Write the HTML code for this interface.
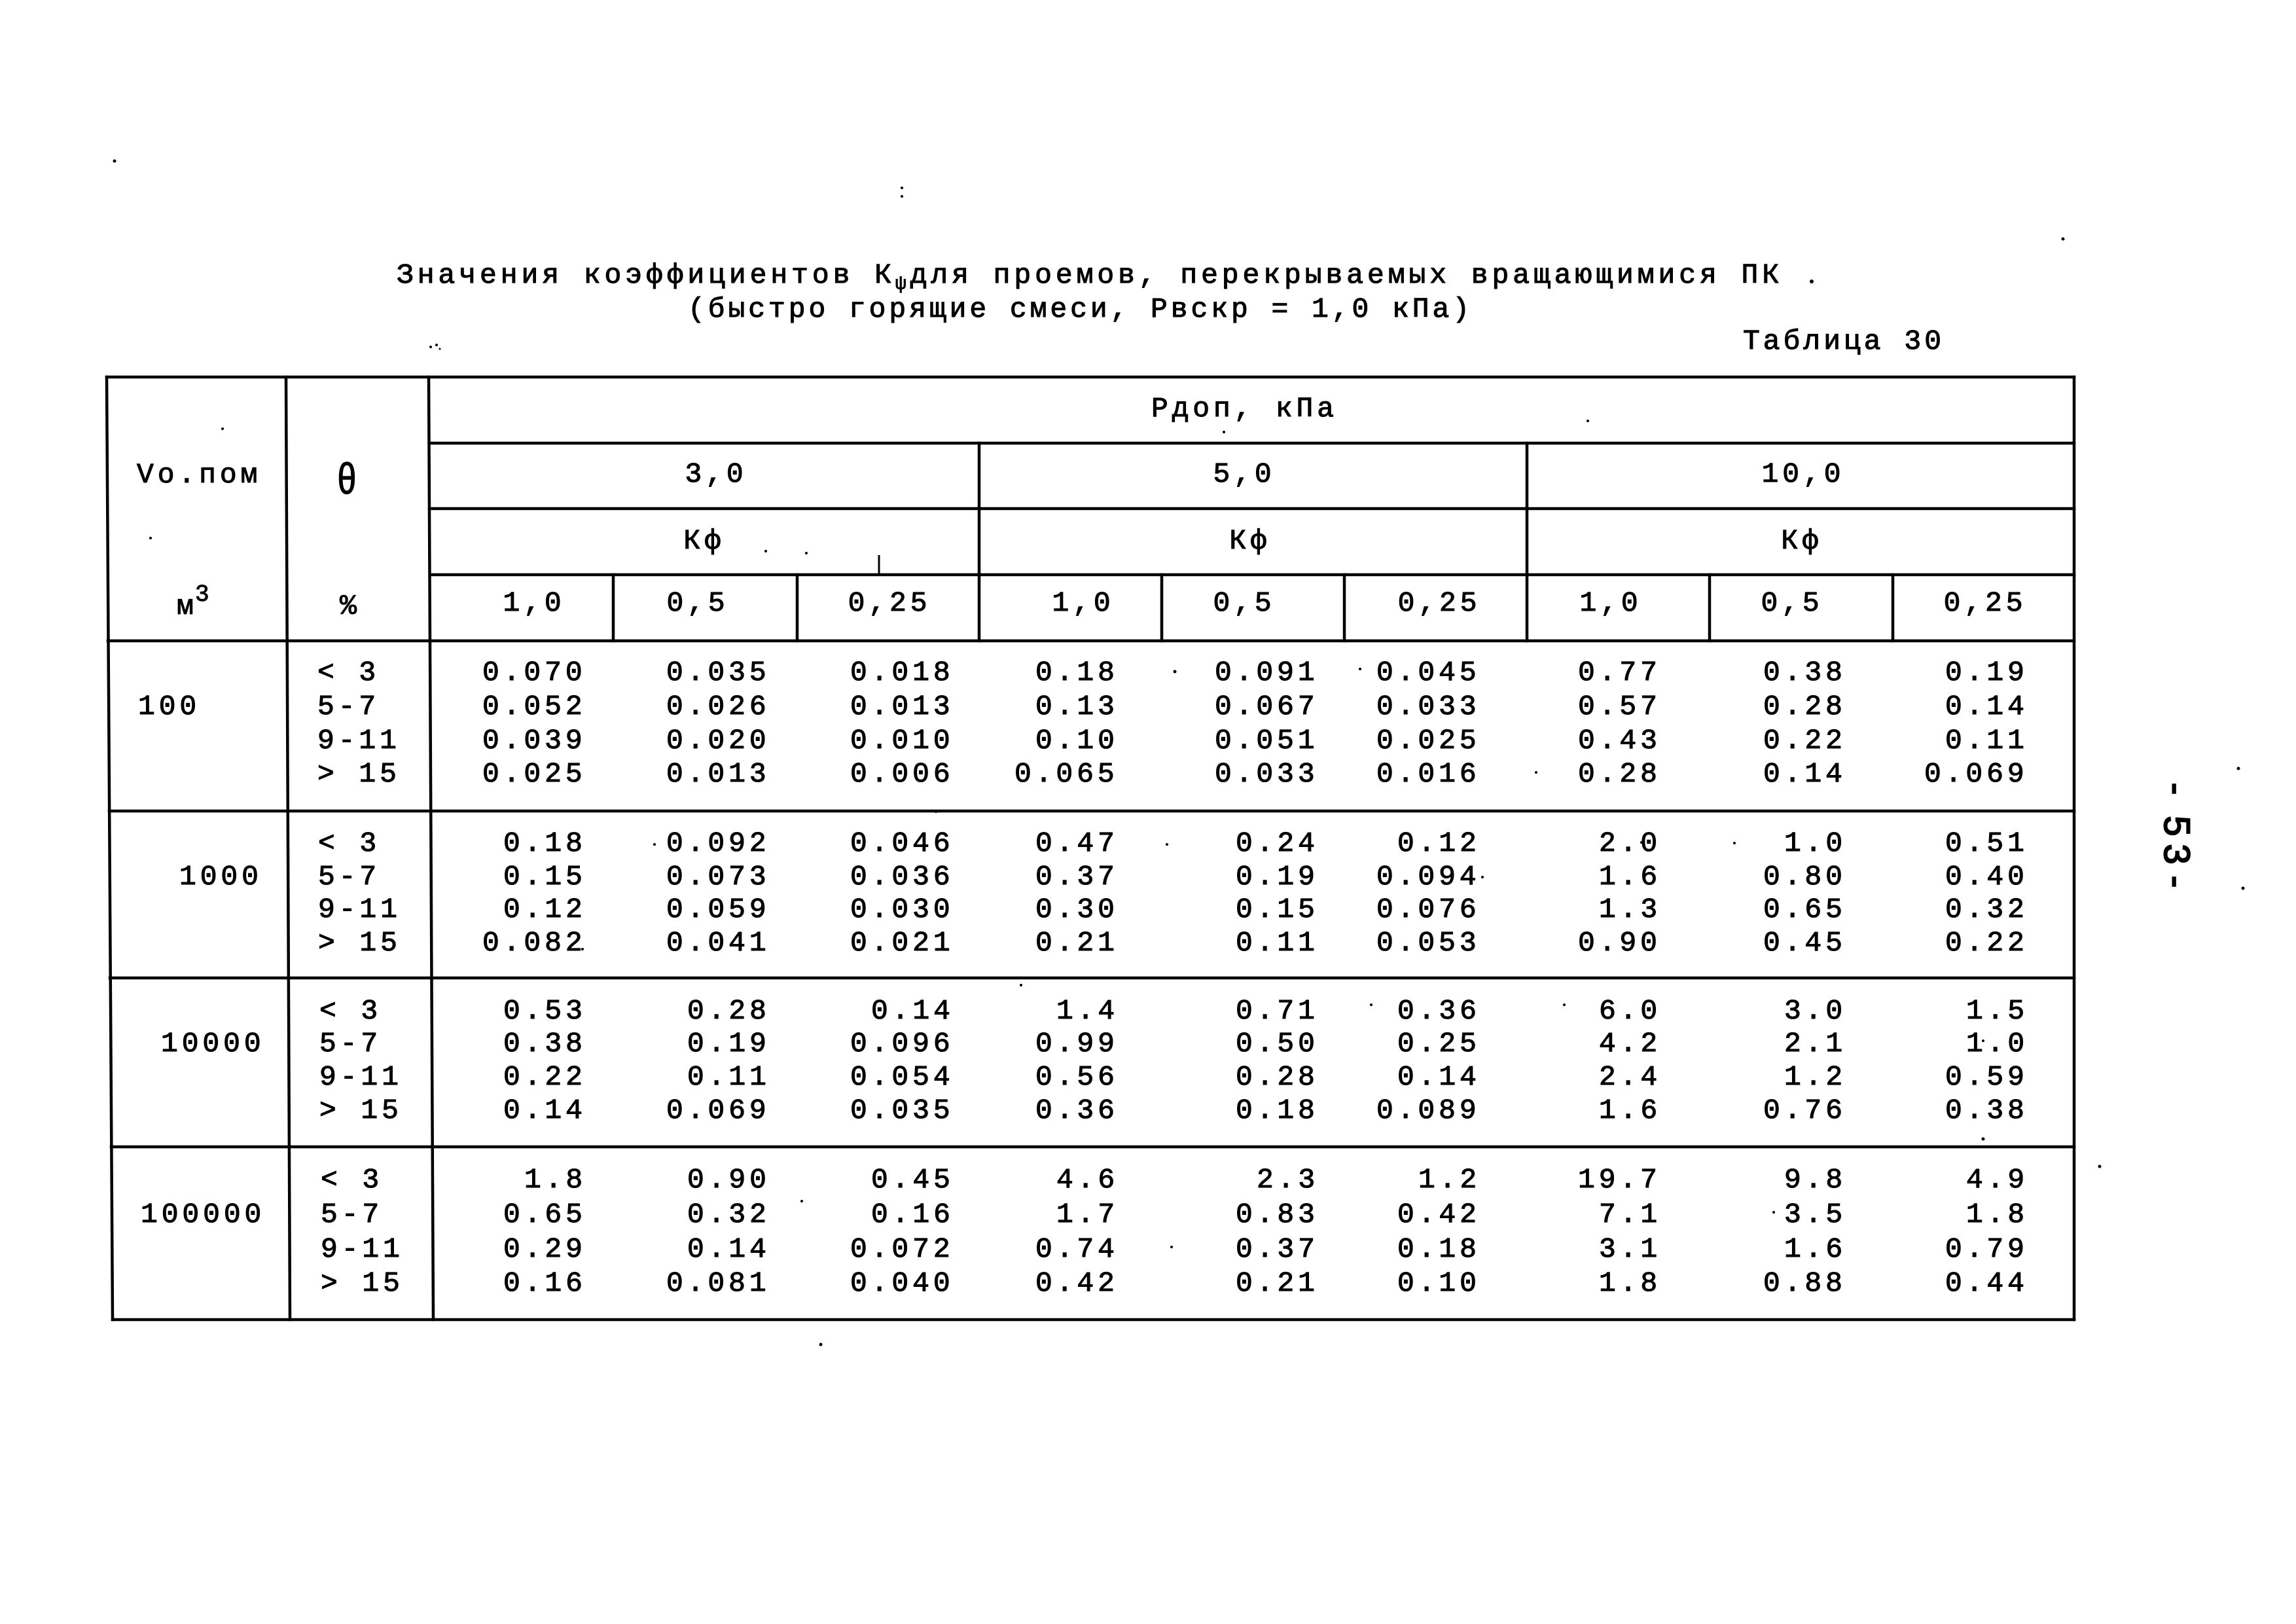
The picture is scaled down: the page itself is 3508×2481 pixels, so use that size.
<!DOCTYPE html>
<html>
<head>
<meta charset="utf-8">
<style>
html,body{margin:0;padding:0;background:#fff;}
svg{display:block;}
.t{font-family:"Liberation Mono","DejaVu Sans Mono",monospace;font-size:43px;fill:#000;stroke:#000;stroke-width:1.1px;}
.n{font-family:"Liberation Mono","DejaVu Sans Mono",monospace;font-size:43px;letter-spacing:5.9px;fill:#000;stroke:#000;stroke-width:1.1px;}
.m{text-anchor:middle;}
.ln{stroke:#000;stroke-width:4.5;stroke-linecap:square;}
</style>
</head>
<body>
<svg xmlns="http://www.w3.org/2000/svg" width="3508" height="2481" viewBox="0 0 3508 2481">
<rect x="0" y="0" width="3508" height="2481" fill="#fff"/>

<!-- Title -->
<text class="t" x="606" y="432" textLength="2112" lengthAdjust="spacing">Значения коэффициентов К<tspan style="font-size:28px" dy="9">ψ</tspan><tspan dy="-9">для проемов, перекрываемых вращающимися ПК</tspan></text>
<text class="t" x="1051" y="484" textLength="1194" lengthAdjust="spacing">(быстро горящие смеси, Рвскр = 1,0 кПа)</text>
<text class="t" x="2663" y="533" textLength="303" lengthAdjust="spacing">Таблица 30</text>

<!-- Table lines -->
<line class="ln" x1="163" y1="576" x2="3169" y2="576"/>
<line class="ln" x1="163" y1="576" x2="172" y2="2016"/>
<line class="ln" x1="437" y1="576" x2="443" y2="2016"/>
<line class="ln" x1="655" y1="576" x2="662" y2="2016"/>
<line class="ln" x1="3169" y1="576" x2="3169" y2="2016"/>
<line class="ln" x1="656" y1="677" x2="3169" y2="677"/>
<line class="ln" x1="656" y1="777" x2="3169" y2="777"/>
<line class="ln" x1="657" y1="878" x2="3169" y2="878"/>
<line class="ln" x1="165" y1="979" x2="3169" y2="979"/>
<line class="ln" x1="167" y1="1239" x2="3169" y2="1239"/>
<line class="ln" x1="168" y1="1494" x2="3169" y2="1494"/>
<line class="ln" x1="170" y1="1752" x2="3169" y2="1752"/>
<line class="ln" x1="172" y1="2016" x2="3169" y2="2016"/>
<line class="ln" x1="1496" y1="677" x2="1496" y2="979"/>
<line class="ln" x1="2333" y1="677" x2="2333" y2="979"/>
<line class="ln" x1="937" y1="878" x2="937" y2="979"/>
<line class="ln" x1="1218" y1="878" x2="1218" y2="979"/>
<line class="ln" x1="1775" y1="878" x2="1775" y2="979"/>
<line class="ln" x1="2054" y1="878" x2="2054" y2="979"/>
<line class="ln" x1="2612" y1="878" x2="2612" y2="979"/>
<line class="ln" x1="2892" y1="878" x2="2892" y2="979"/>
<line x1="1343" y1="848" x2="1343" y2="876" stroke="#000" stroke-width="3"/>

<!-- Left header -->
<text class="n" x="209" y="737">Vo.пом</text>
<text class="t" x="270" y="938">м</text>
<text class="t" x="298" y="918" style="font-size:36px;stroke-width:1px">3</text>
<g transform="translate(530,0) scale(0.78,1)">
<text class="t m" x="0" y="754" style="font-size:66px;stroke-width:1.4px">θ</text>
</g>
<text class="t m" x="532" y="938">%</text>

<!-- Right header -->
<text class="t" x="1759" y="636" textLength="279" lengthAdjust="spacing">Рдоп, кПа</text>
<text class="n m" x="1094" y="736">3,0</text>
<text class="n m" x="1901" y="736">5,0</text>
<text class="n m" x="2755" y="736">10,0</text>
<text class="n m" x="1076" y="838">Кф</text>
<text class="n m" x="1910" y="838">Кф</text>
<text class="n m" x="2753" y="838">Кф</text>
<text class="n m" x="816" y="933">1,0</text>
<text class="n m" x="1066" y="933">0,5</text>
<text class="n m" x="1359" y="933">0,25</text>
<text class="n m" x="1655" y="933">1,0</text>
<text class="n m" x="1901" y="933">0,5</text>
<text class="n m" x="2199" y="933">0,25</text>
<text class="n m" x="2461" y="933">1,0</text>
<text class="n m" x="2738" y="933">0,5</text>
<text class="n m" x="3033" y="933">0,25</text>

<!-- Volume labels -->
<text class="n" x="211" y="1091">100</text>
<text class="n" x="274" y="1351">1000</text>
<text class="n" x="246" y="1606">10000</text>
<text class="n" x="215" y="1867">100000</text>

<!-- Theta labels -->
<text class="n" x="485" y="1039">&lt; 3</text>
<text class="n" x="485" y="1091">5-7</text>
<text class="n" x="485" y="1143">9-11</text>
<text class="n" x="485" y="1194">&gt; 15</text>
<text class="n" x="486" y="1300">&lt; 3</text>
<text class="n" x="486" y="1351">5-7</text>
<text class="n" x="486" y="1401">9-11</text>
<text class="n" x="486" y="1452">&gt; 15</text>
<text class="n" x="488" y="1556">&lt; 3</text>
<text class="n" x="488" y="1606">5-7</text>
<text class="n" x="488" y="1657">9-11</text>
<text class="n" x="488" y="1708">&gt; 15</text>
<text class="n" x="490" y="1814">&lt; 3</text>
<text class="n" x="490" y="1867">5-7</text>
<text class="n" x="490" y="1920">9-11</text>
<text class="n" x="490" y="1972">&gt; 15</text>

<!-- Group 100 -->
<text class="n" x="737" y="1039">0.070</text><text class="n" x="1018" y="1039">0.035</text><text class="n" x="1299" y="1039">0.018</text><text class="n" x="1582" y="1039">0.18</text><text class="n" x="1856" y="1039">0.091</text><text class="n" x="2103" y="1039">0.045</text><text class="n" x="2411" y="1039">0.77</text><text class="n" x="2694" y="1039">0.38</text><text class="n" x="2972" y="1039">0.19</text>
<text class="n" x="737" y="1091">0.052</text><text class="n" x="1018" y="1091">0.026</text><text class="n" x="1299" y="1091">0.013</text><text class="n" x="1582" y="1091">0.13</text><text class="n" x="1856" y="1091">0.067</text><text class="n" x="2103" y="1091">0.033</text><text class="n" x="2411" y="1091">0.57</text><text class="n" x="2694" y="1091">0.28</text><text class="n" x="2972" y="1091">0.14</text>
<text class="n" x="737" y="1143">0.039</text><text class="n" x="1018" y="1143">0.020</text><text class="n" x="1299" y="1143">0.010</text><text class="n" x="1582" y="1143">0.10</text><text class="n" x="1856" y="1143">0.051</text><text class="n" x="2103" y="1143">0.025</text><text class="n" x="2411" y="1143">0.43</text><text class="n" x="2694" y="1143">0.22</text><text class="n" x="2972" y="1143">0.11</text>
<text class="n" x="737" y="1194">0.025</text><text class="n" x="1018" y="1194">0.013</text><text class="n" x="1299" y="1194">0.006</text><text class="n" x="1550" y="1194">0.065</text><text class="n" x="1856" y="1194">0.033</text><text class="n" x="2103" y="1194">0.016</text><text class="n" x="2411" y="1194">0.28</text><text class="n" x="2694" y="1194">0.14</text><text class="n" x="2940" y="1194">0.069</text>

<!-- Group 1000 -->
<text class="n" x="769" y="1300">0.18</text><text class="n" x="1018" y="1300">0.092</text><text class="n" x="1299" y="1300">0.046</text><text class="n" x="1582" y="1300">0.47</text><text class="n" x="1888" y="1300">0.24</text><text class="n" x="2135" y="1300">0.12</text><text class="n" x="2443" y="1300">2.0</text><text class="n" x="2726" y="1300">1.0</text><text class="n" x="2972" y="1300">0.51</text>
<text class="n" x="769" y="1351">0.15</text><text class="n" x="1018" y="1351">0.073</text><text class="n" x="1299" y="1351">0.036</text><text class="n" x="1582" y="1351">0.37</text><text class="n" x="1888" y="1351">0.19</text><text class="n" x="2103" y="1351">0.094</text><text class="n" x="2443" y="1351">1.6</text><text class="n" x="2694" y="1351">0.80</text><text class="n" x="2972" y="1351">0.40</text>
<text class="n" x="769" y="1401">0.12</text><text class="n" x="1018" y="1401">0.059</text><text class="n" x="1299" y="1401">0.030</text><text class="n" x="1582" y="1401">0.30</text><text class="n" x="1888" y="1401">0.15</text><text class="n" x="2103" y="1401">0.076</text><text class="n" x="2443" y="1401">1.3</text><text class="n" x="2694" y="1401">0.65</text><text class="n" x="2972" y="1401">0.32</text>
<text class="n" x="737" y="1452">0.082</text><text class="n" x="1018" y="1452">0.041</text><text class="n" x="1299" y="1452">0.021</text><text class="n" x="1582" y="1452">0.21</text><text class="n" x="1888" y="1452">0.11</text><text class="n" x="2103" y="1452">0.053</text><text class="n" x="2411" y="1452">0.90</text><text class="n" x="2694" y="1452">0.45</text><text class="n" x="2972" y="1452">0.22</text>

<!-- Group 10000 -->
<text class="n" x="769" y="1556">0.53</text><text class="n" x="1050" y="1556">0.28</text><text class="n" x="1331" y="1556">0.14</text><text class="n" x="1614" y="1556">1.4</text><text class="n" x="1888" y="1556">0.71</text><text class="n" x="2135" y="1556">0.36</text><text class="n" x="2443" y="1556">6.0</text><text class="n" x="2726" y="1556">3.0</text><text class="n" x="3004" y="1556">1.5</text>
<text class="n" x="769" y="1606">0.38</text><text class="n" x="1050" y="1606">0.19</text><text class="n" x="1299" y="1606">0.096</text><text class="n" x="1582" y="1606">0.99</text><text class="n" x="1888" y="1606">0.50</text><text class="n" x="2135" y="1606">0.25</text><text class="n" x="2443" y="1606">4.2</text><text class="n" x="2726" y="1606">2.1</text><text class="n" x="3004" y="1606">1.0</text>
<text class="n" x="769" y="1657">0.22</text><text class="n" x="1050" y="1657">0.11</text><text class="n" x="1299" y="1657">0.054</text><text class="n" x="1582" y="1657">0.56</text><text class="n" x="1888" y="1657">0.28</text><text class="n" x="2135" y="1657">0.14</text><text class="n" x="2443" y="1657">2.4</text><text class="n" x="2726" y="1657">1.2</text><text class="n" x="2972" y="1657">0.59</text>
<text class="n" x="769" y="1708">0.14</text><text class="n" x="1018" y="1708">0.069</text><text class="n" x="1299" y="1708">0.035</text><text class="n" x="1582" y="1708">0.36</text><text class="n" x="1888" y="1708">0.18</text><text class="n" x="2103" y="1708">0.089</text><text class="n" x="2443" y="1708">1.6</text><text class="n" x="2694" y="1708">0.76</text><text class="n" x="2972" y="1708">0.38</text>

<!-- Group 100000 -->
<text class="n" x="801" y="1814">1.8</text><text class="n" x="1050" y="1814">0.90</text><text class="n" x="1331" y="1814">0.45</text><text class="n" x="1614" y="1814">4.6</text><text class="n" x="1920" y="1814">2.3</text><text class="n" x="2167" y="1814">1.2</text><text class="n" x="2411" y="1814">19.7</text><text class="n" x="2726" y="1814">9.8</text><text class="n" x="3004" y="1814">4.9</text>
<text class="n" x="769" y="1867">0.65</text><text class="n" x="1050" y="1867">0.32</text><text class="n" x="1331" y="1867">0.16</text><text class="n" x="1614" y="1867">1.7</text><text class="n" x="1888" y="1867">0.83</text><text class="n" x="2135" y="1867">0.42</text><text class="n" x="2443" y="1867">7.1</text><text class="n" x="2726" y="1867">3.5</text><text class="n" x="3004" y="1867">1.8</text>
<text class="n" x="769" y="1920">0.29</text><text class="n" x="1050" y="1920">0.14</text><text class="n" x="1299" y="1920">0.072</text><text class="n" x="1582" y="1920">0.74</text><text class="n" x="1888" y="1920">0.37</text><text class="n" x="2135" y="1920">0.18</text><text class="n" x="2443" y="1920">3.1</text><text class="n" x="2726" y="1920">1.6</text><text class="n" x="2972" y="1920">0.79</text>
<text class="n" x="769" y="1972">0.16</text><text class="n" x="1018" y="1972">0.081</text><text class="n" x="1299" y="1972">0.040</text><text class="n" x="1582" y="1972">0.42</text><text class="n" x="1888" y="1972">0.21</text><text class="n" x="2135" y="1972">0.10</text><text class="n" x="2443" y="1972">1.8</text><text class="n" x="2694" y="1972">0.88</text><text class="n" x="2972" y="1972">0.44</text>

<!-- Page number (rotated) -->
<g transform="translate(3307,1275) rotate(90)">
<text x="-70 -13 30 72" y="0" style="font-family:'Liberation Sans',sans-serif;font-size:56px;fill:#000;stroke:#000;stroke-width:2px;text-anchor:middle;">-53-</text>
</g>

<!-- Specks -->
<g fill="#000">
<circle cx="175" cy="246" r="2.5"/>
<circle cx="1378" cy="287" r="2"/>
<circle cx="1378" cy="300" r="2"/>
<circle cx="3152" cy="365" r="2.5"/>
<circle cx="658" cy="530" r="2"/>
<circle cx="667" cy="527" r="2"/>
<circle cx="672" cy="533" r="1.5"/>
<circle cx="2768" cy="430" r="3"/>
<circle cx="3420" cy="1174" r="2.5"/>
<circle cx="3427" cy="1357" r="2.5"/>
<circle cx="1254" cy="2054" r="2.5"/>
<circle cx="2426" cy="643" r="2"/>
<circle cx="1795" cy="1026" r="2.5"/>
<circle cx="2078" cy="1022" r="2"/>
<circle cx="1000" cy="1290" r="2"/>
<circle cx="2347" cy="1180" r="2"/>
<circle cx="1783" cy="1290" r="2"/>
<circle cx="2265" cy="1340" r="2"/>
<circle cx="2508" cy="1287" r="2"/>
<circle cx="2650" cy="1288" r="2"/>
<circle cx="1560" cy="1505" r="2"/>
<circle cx="2095" cy="1535" r="2"/>
<circle cx="2390" cy="1535" r="2"/>
<circle cx="3030" cy="1590" r="2"/>
<circle cx="3030" cy="1740" r="2.5"/>
<circle cx="3208" cy="1782" r="2.5"/>
<circle cx="1225" cy="1835" r="2"/>
<circle cx="2710" cy="1852" r="2"/>
<circle cx="1790" cy="1905" r="2"/>
<circle cx="890" cy="1450" r="2"/>
<circle cx="1430" cy="1240" r="2"/>
<circle cx="1870" cy="660" r="2"/>
<circle cx="1170" cy="842" r="2"/>
<circle cx="1232" cy="845" r="2"/>
<circle cx="230" cy="822" r="2"/>
<circle cx="340" cy="655" r="2"/>
</g>
</svg>
</body>
</html>
